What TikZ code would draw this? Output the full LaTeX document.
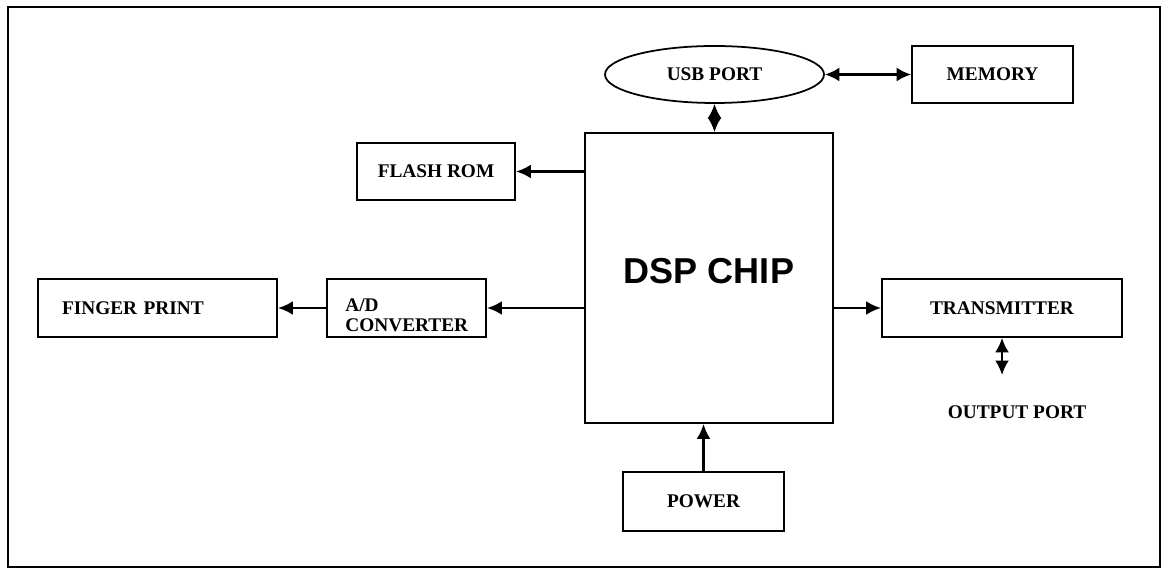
\documentclass[tikz,border=0pt]{standalone}
\usepackage{fontspec}
\setmainfont{Liberation Serif}
\newfontfamily\chipfont{Liberation Sans}
\usetikzlibrary{arrows.meta}
\usetikzlibrary{shapes.geometric}
\tikzset{
  blk/.style={draw, line width=1pt, inner sep=0pt, font=\fontsize{11}{14}\selectfont\bfseries},
  sz/.style 2 args={minimum width=#1*0.02cm, minimum height=#2*0.02cm},
  lbl/.style={inner sep=0pt, font=\fontsize{11}{11.2}\selectfont\bfseries},
  arr/.style={line width=1.6pt, -{Latex[length=3mm, width=2.8mm]}},
  dbl/.style={line width=1.3pt, {Latex[length=2.9mm, width=2.8mm]}-{Latex[length=2.9mm, width=2.8mm]}},
}

\begin{document}
\begin{tikzpicture}[x=0.02cm, y=-0.02cm]
\useasboundingbox (0,0) rectangle (1162,570);
\draw[line width=1pt] (8,7) rectangle (1160,567);

%%%%%%%%%% chip in the middle
\node[blk, sz={248}{290}] (chip) at (709,278) {};
\node[inner sep=0pt, font=\chipfont\fontsize{20.5}{24}\selectfont\bfseries] (chiplbl) at (709,271) {DSP CHIP};

%%%%%%%%%% top
\node[blk, ellipse, sz={219}{57}] (usb) at (714.5,74.5) {USB PORT};
\node[blk, sz={161}{57}] (mem) at (992.5,74.5) {MEMORY};
\node[blk, sz={158}{57}] (flash) at (436,171.5) {FLASH ROM};

%%%%%%%%%% left side
\node[blk, sz={239}{58}, text width=191*0.02cm, align=left] (finger) at (157.5,308) {FINGER PRINT};
\node[blk, sz={159}{58}] (ad) at (406.5,308) {};
\node[lbl, anchor=north west, align=left] (adlbl) at (345,298.5) {A/D\\CONVERTER};

%%%%%%%%%% right side and bottom
\node[blk, sz={240}{58}] (tx) at (1002,308) {TRANSMITTER};
\node[lbl] (out) at (1017,412) {OUTPUT PORT};
\coordinate (outtip) at (1002,375);
\node[blk, sz={161}{59}] (power) at (703.5,501.5) {POWER};

%%%%%%%%%% connections
\draw[arr] (chip.west |- flash.east) -- (flash.east);
\draw[arr] (chip.west |- ad.east) -- (ad.east);
\draw[arr] (ad.west) -- (finger.east);
\draw[arr] (chip.east |- tx.west) -- (tx.west);
\draw[arr] (power.north) -- (power.north |- chip.south);
\draw[dbl] (usb.south) -- (usb.south |- chip.north);
\draw[dbl] (usb.east) -- (mem.west);
\draw[dbl] (tx.south) -- (outtip);
\end{tikzpicture}
\end{document}
